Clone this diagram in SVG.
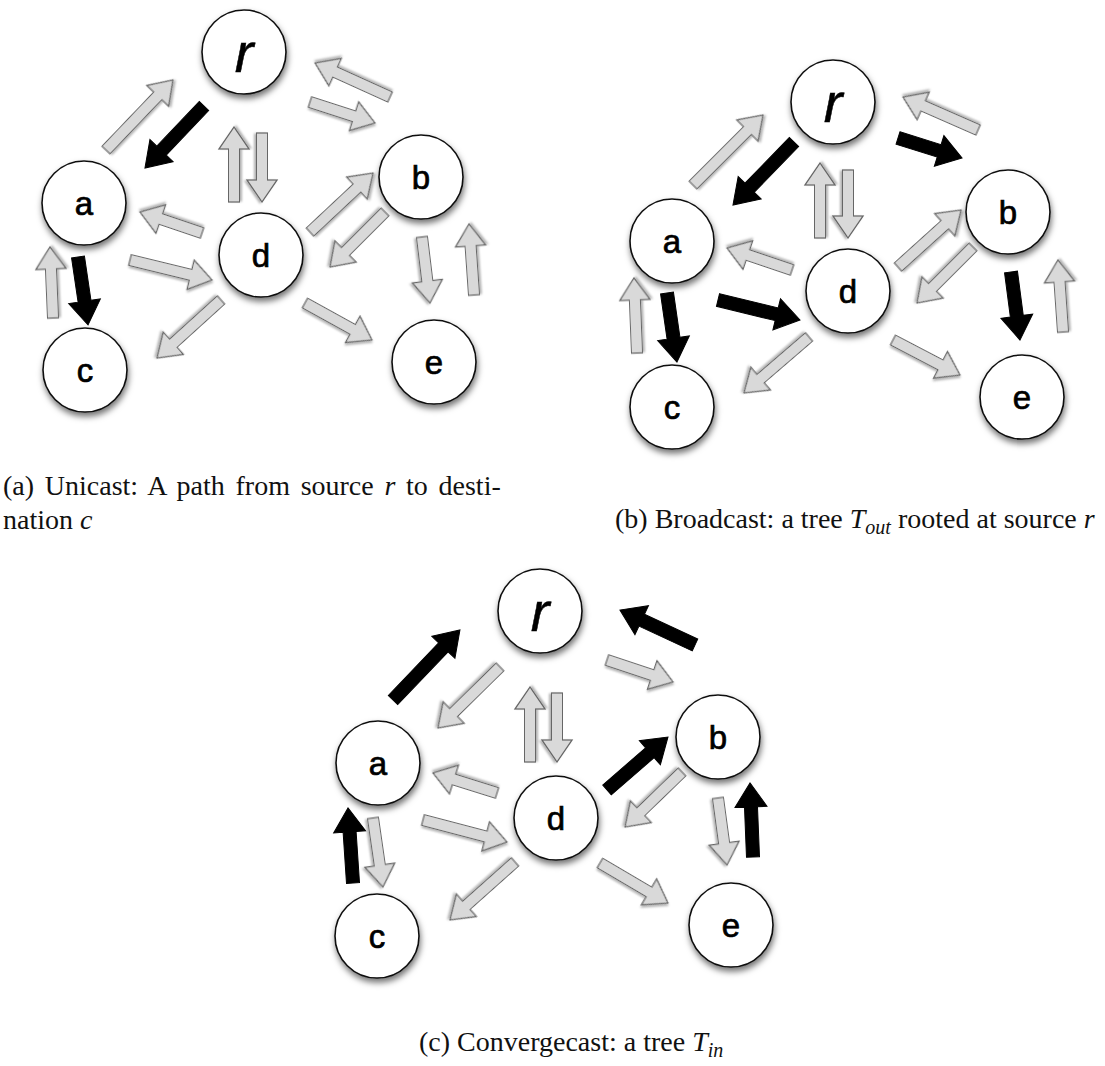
<svg xmlns="http://www.w3.org/2000/svg" width="1105" height="1066" viewBox="0 0 1105 1066">
<defs>
<filter id="shadow" x="-30%" y="-30%" width="160%" height="170%">
<feDropShadow dx="1" dy="4" stdDeviation="3" flood-color="#000" flood-opacity="0.55"/>
</filter>
<filter id="ashadow" x="-20%" y="-40%" width="140%" height="180%">
<feDropShadow dx="1" dy="2" stdDeviation="1.2" flood-color="#000" flood-opacity="0.3"/>
</filter>
</defs>
<style>
.node circle{fill:#fff;stroke:#111;stroke-width:1.6;filter:url(#shadow)}
.node text{font-family:"Liberation Sans",Arial,sans-serif;font-size:33px;text-anchor:middle;fill:#000;stroke:#000;stroke-width:0.7}
.node text.r{font-style:italic;font-size:56px;stroke-width:0.5}
.g{fill:#d9d9d9;stroke:#666;stroke-width:1.2;stroke-linejoin:miter;filter:url(#ashadow)}
.k{fill:#000;stroke:#000;stroke-width:1}
.cap{font-family:"Liberation Serif","Times New Roman",serif;font-size:28px;fill:#111}
.it{font-style:italic}
</style>
<rect width="1105" height="1066" fill="#fff"/>
<g id="connectors">
<!-- panel a -->
<path class="g" transform="translate(106,150) rotate(-46.3)" d="M0,-5.5H74.9V-15L96.9,0L74.9,15V5.5H0Z"/>
<path class="k" transform="translate(204,106) rotate(133.6)" d="M0,-6.5H61.6V-16L85.6,0L61.6,16V6.5H0Z"/>
<path class="g" transform="translate(234,202) rotate(-90)" d="M0,-5.5H53V-15L75,0L53,15V5.5H0Z"/>
<path class="g" transform="translate(262,133) rotate(90)" d="M0,-5.5H47V-15L69,0L47,15V5.5H0Z"/>
<path class="g" transform="translate(390,97) rotate(-155.6)" d="M0,-5.5H60.3V-15L82.3,0L60.3,15V5.5H0Z"/>
<path class="g" transform="translate(310,102) rotate(17.9)" d="M0,-5.5H46.3V-15L68.3,0L46.3,15V5.5H0Z"/>
<path class="g" transform="translate(202,233) rotate(-161.3)" d="M0,-5.5H43.5V-15L65.5,0L43.5,15V5.5H0Z"/>
<path class="g" transform="translate(130,260) rotate(13.7)" d="M0,-5.5H62.4V-15L84.4,0L62.4,15V5.5H0Z"/>
<path class="g" transform="translate(310,232) rotate(-43.1)" d="M0,-5.5H64.3V-15L86.3,0L64.3,15V5.5H0Z"/>
<path class="g" transform="translate(385,212) rotate(135)" d="M0,-5.5H55.8V-15L77.8,0L55.8,15V5.5H0Z"/>
<path class="g" transform="translate(53,318) rotate(-92.4)" d="M0,-5.5H49.1V-15L71.1,0L49.1,15V5.5H0Z"/>
<path class="k" transform="translate(78,257) rotate(81.6)" d="M0,-6.5H44.7V-16L68.7,0L44.7,16V6.5H0Z"/>
<path class="g" transform="translate(221,300) rotate(137.8)" d="M0,-5.5H64.4V-15L86.4,0L64.4,15V5.5H0Z"/>
<path class="g" transform="translate(305,303) rotate(28.9)" d="M0,-5.5H54.5V-15L76.5,0L54.5,15V5.5H0Z"/>
<path class="g" transform="translate(422,237) rotate(83.1)" d="M0,-5.5H44.5V-15L66.5,0L44.5,15V5.5H0Z"/>
<path class="g" transform="translate(474,295) rotate(-94)" d="M0,-5.5H49.2V-15L71.2,0L49.2,15V5.5H0Z"/>
<!-- panel b -->
<path class="g" transform="translate(693,185) rotate(-45)" d="M0,-5.5H77V-15L99,0L77,15V5.5H0Z"/>
<path class="k" transform="translate(794,142) rotate(134.1)" d="M0,-6.5H63.7V-16L87.7,0L63.7,16V6.5H0Z"/>
<path class="g" transform="translate(820,238) rotate(-90)" d="M0,-5.5H53V-15L75,0L53,15V5.5H0Z"/>
<path class="g" transform="translate(848,170) rotate(90)" d="M0,-5.5H46V-15L68,0L46,15V5.5H0Z"/>
<path class="g" transform="translate(978,130) rotate(-156.3)" d="M0,-5.5H59.9V-15L81.9,0L59.9,15V5.5H0Z"/>
<path class="k" transform="translate(898,138) rotate(17.4)" d="M0,-6.5H43.1V-16L67.1,0L43.1,16V6.5H0Z"/>
<path class="g" transform="translate(792,270) rotate(-161.3)" d="M0,-5.5H46.6V-15L68.6,0L46.6,15V5.5H0Z"/>
<path class="k" transform="translate(718,300) rotate(13.7)" d="M0,-6.5H60.4V-16L84.4,0L60.4,16V6.5H0Z"/>
<path class="g" transform="translate(898,267) rotate(-42.1)" d="M0,-5.5H63V-15L85,0L63,15V5.5H0Z"/>
<path class="g" transform="translate(973,247) rotate(135)" d="M0,-5.5H57.2V-15L79.2,0L57.2,15V5.5H0Z"/>
<path class="g" transform="translate(637,353) rotate(-92.3)" d="M0,-5.5H53.1V-15L75.1,0L53.1,15V5.5H0Z"/>
<path class="k" transform="translate(667,293) rotate(81.8)" d="M0,-6.5H45.7V-16L69.7,0L45.7,16V6.5H0Z"/>
<path class="g" transform="translate(809,337) rotate(139.3)" d="M0,-5.5H63.8V-15L85.8,0L63.8,15V5.5H0Z"/>
<path class="g" transform="translate(893,340) rotate(27.6)" d="M0,-5.5H53.6V-15L75.6,0L53.6,15V5.5H0Z"/>
<path class="k" transform="translate(1011,272) rotate(82.5)" d="M0,-6.5H44.6V-16L68.6,0L44.6,16V6.5H0Z"/>
<path class="g" transform="translate(1063,332) rotate(-94)" d="M0,-5.5H50.2V-15L72.2,0L50.2,15V5.5H0Z"/>
<!-- panel c -->
<path class="k" transform="translate(393,700) rotate(-46.3)" d="M0,-6.5H72.9V-16L96.9,0L72.9,16V6.5H0Z"/>
<path class="g" transform="translate(500,667) rotate(135.5)" d="M0,-5.5H65V-15L87,0L65,15V5.5H0Z"/>
<path class="g" transform="translate(530,762) rotate(-90)" d="M0,-5.5H53V-15L75,0L53,15V5.5H0Z"/>
<path class="g" transform="translate(557,693) rotate(90)" d="M0,-5.5H47V-15L69,0L47,15V5.5H0Z"/>
<path class="k" transform="translate(695,645) rotate(-155)" d="M0,-6.5H58.8V-16L82.8,0L58.8,16V6.5H0Z"/>
<path class="g" transform="translate(607,660) rotate(18.4)" d="M0,-5.5H47.6V-15L69.6,0L47.6,15V5.5H0Z"/>
<path class="g" transform="translate(497,793) rotate(-162.6)" d="M0,-5.5H45.1V-15L67.1,0L45.1,15V5.5H0Z"/>
<path class="g" transform="translate(423,820) rotate(14.7)" d="M0,-5.5H64.8V-15L86.8,0L64.8,15V5.5H0Z"/>
<path class="k" transform="translate(607,790) rotate(-41)" d="M0,-6.5H56.8V-16L80.8,0L56.8,16V6.5H0Z"/>
<path class="g" transform="translate(682,772) rotate(136)" d="M0,-5.5H57.2V-15L79.2,0L57.2,15V5.5H0Z"/>
<path class="k" transform="translate(353,883) rotate(-93.8)" d="M0,-6.5H51.2V-16L75.2,0L51.2,16V6.5H0Z"/>
<path class="g" transform="translate(373,818) rotate(81.8)" d="M0,-5.5H47.7V-15L69.7,0L47.7,15V5.5H0Z"/>
<path class="g" transform="translate(515,862) rotate(138.3)" d="M0,-5.5H65.1V-15L87.1,0L65.1,15V5.5H0Z"/>
<path class="g" transform="translate(600,863) rotate(30.5)" d="M0,-5.5H56.9V-15L78.9,0L56.9,15V5.5H0Z"/>
<path class="g" transform="translate(718,798) rotate(82.3)" d="M0,-5.5H45.6V-15L67.6,0L45.6,15V5.5H0Z"/>
<path class="k" transform="translate(753,857) rotate(-92.3)" d="M0,-6.5H50.1V-16L74.1,0L50.1,16V6.5H0Z"/>
</g>
<!-- panel a nodes -->
<g id="a-r" class="node"><circle cx="244" cy="52" r="42"/><text class="r" x="244" y="72">r</text></g>
<g id="a-a" class="node"><circle cx="84" cy="203" r="42"/><text x="84" y="215">a</text></g>
<g id="a-d" class="node"><circle cx="261" cy="255" r="42"/><text x="261" y="267">d</text></g>
<g id="a-b" class="node"><circle cx="421" cy="177" r="42"/><text x="421" y="189">b</text></g>
<g id="a-c" class="node"><circle cx="85" cy="370" r="42"/><text x="85" y="382">c</text></g>
<g id="a-e" class="node"><circle cx="434" cy="362" r="42"/><text x="434" y="374">e</text></g>
<!-- panel b nodes -->
<g id="b-r" class="node"><circle cx="833" cy="102" r="42"/><text class="r" x="833" y="122">r</text></g>
<g id="b-a" class="node"><circle cx="672" cy="241" r="42"/><text x="672" y="253">a</text></g>
<g id="b-d" class="node"><circle cx="848" cy="291" r="42"/><text x="848" y="303">d</text></g>
<g id="b-b" class="node"><circle cx="1008" cy="212" r="42"/><text x="1008" y="224">b</text></g>
<g id="b-c" class="node"><circle cx="672" cy="407" r="42"/><text x="672" y="419">c</text></g>
<g id="b-e" class="node"><circle cx="1022" cy="397" r="42"/><text x="1022" y="409">e</text></g>
<!-- panel c nodes -->
<g id="c-r" class="node"><circle cx="540" cy="611" r="42"/><text class="r" x="540" y="631">r</text></g>
<g id="c-a" class="node"><circle cx="378" cy="763" r="42"/><text x="378" y="775">a</text></g>
<g id="c-d" class="node"><circle cx="556" cy="818" r="42"/><text x="556" y="830">d</text></g>
<g id="c-b" class="node"><circle cx="718" cy="737" r="42"/><text x="718" y="749">b</text></g>
<g id="c-c" class="node"><circle cx="377" cy="936" r="42"/><text x="377" y="948">c</text></g>
<g id="c-e" class="node"><circle cx="731" cy="925" r="42"/><text x="731" y="937">e</text></g>
<!-- captions -->
<g id="captions">
<text class="cap" x="3" y="495" word-spacing="3.7">(a) Unicast: A path from source <tspan class="it">r</tspan> to desti-</text>
<text class="cap" x="3" y="529">nation <tspan class="it">c</tspan></text>
<text class="cap" x="615" y="528">(b) Broadcast: a tree <tspan class="it">T</tspan><tspan class="it" font-size="20" dy="6">out</tspan><tspan dy="-6"> rooted at source </tspan><tspan class="it">r</tspan></text>
<text class="cap" x="419" y="1051">(c) Convergecast: a tree <tspan class="it">T</tspan><tspan class="it" font-size="20" dy="6">in</tspan></text>
</g>
</svg>
